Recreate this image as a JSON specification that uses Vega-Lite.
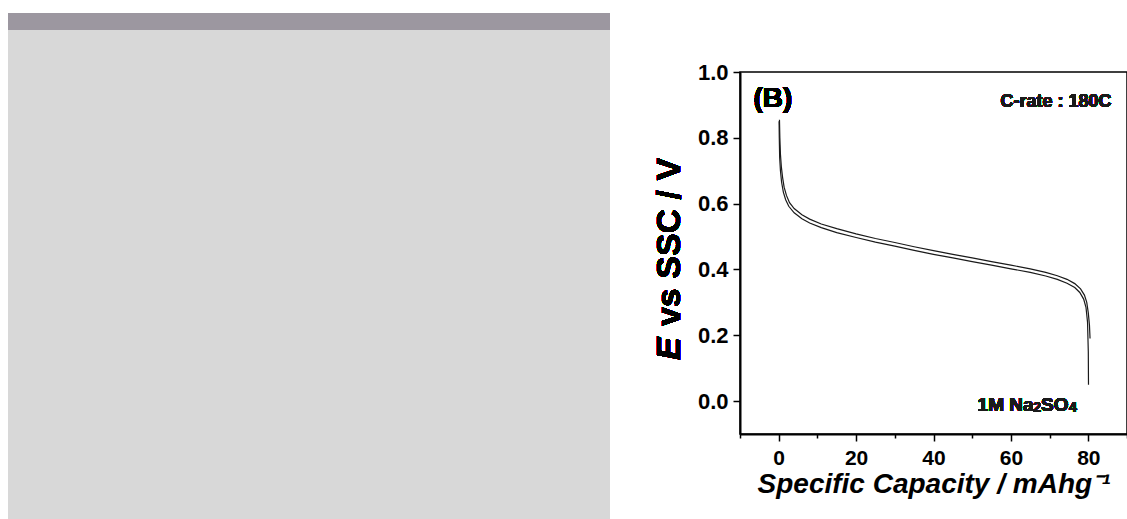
{
  "$schema": "https://vega.github.io/schema/vega-lite/v6.json",
  "background": "white",
  "padding": {"left": 8, "top": 13, "right": 0, "bottom": 0},
  "bounds": "flush",
  "spacing": 130,
  "config": {"view": {"stroke": null}, "font": "Liberation Sans"},
  "datasets": {
    "panels": [
      {"panel": "image", "x0": 0, "x1": 1, "y0": 0, "y1": 489},
      {"panel": "strip", "x0": 0, "x1": 1, "y0": 489, "y1": 506}
    ],
    "curves": [
      {"run": "A", "cap": 0.2, "E": 0.855}, {"run": "A", "cap": 0.3, "E": 0.8}, {"run": "A", "cap": 0.45, "E": 0.75}, {"run": "A", "cap": 0.7, "E": 0.71}, {"run": "A", "cap": 1.0, "E": 0.68}, {"run": "A", "cap": 1.4, "E": 0.65}, {"run": "A", "cap": 2.0, "E": 0.625}, {"run": "A", "cap": 2.8, "E": 0.603}, {"run": "A", "cap": 4, "E": 0.585}, {"run": "A", "cap": 6, "E": 0.566}, {"run": "A", "cap": 8, "E": 0.553}, {"run": "A", "cap": 11, "E": 0.538}, {"run": "A", "cap": 15, "E": 0.524}, {"run": "A", "cap": 20, "E": 0.508}, {"run": "A", "cap": 25, "E": 0.494}, {"run": "A", "cap": 30, "E": 0.482}, {"run": "A", "cap": 35, "E": 0.469}, {"run": "A", "cap": 40, "E": 0.457}, {"run": "A", "cap": 45, "E": 0.446}, {"run": "A", "cap": 50, "E": 0.435}, {"run": "A", "cap": 55, "E": 0.424}, {"run": "A", "cap": 60, "E": 0.413}, {"run": "A", "cap": 65, "E": 0.402}, {"run": "A", "cap": 69, "E": 0.391}, {"run": "A", "cap": 72, "E": 0.381}, {"run": "A", "cap": 74.5, "E": 0.37}, {"run": "A", "cap": 76.5, "E": 0.357}, {"run": "A", "cap": 78, "E": 0.341}, {"run": "A", "cap": 79, "E": 0.322}, {"run": "A", "cap": 79.6, "E": 0.3}, {"run": "A", "cap": 80.0, "E": 0.268}, {"run": "A", "cap": 80.3, "E": 0.23}, {"run": "A", "cap": 80.45, "E": 0.19},
      {"run": "B", "cap": 0.1, "E": 0.85}, {"run": "B", "cap": 0.15, "E": 0.8}, {"run": "B", "cap": 0.25, "E": 0.74}, {"run": "B", "cap": 0.45, "E": 0.7}, {"run": "B", "cap": 0.75, "E": 0.665}, {"run": "B", "cap": 1.2, "E": 0.635}, {"run": "B", "cap": 1.8, "E": 0.612}, {"run": "B", "cap": 2.6, "E": 0.592}, {"run": "B", "cap": 4, "E": 0.572}, {"run": "B", "cap": 6, "E": 0.554}, {"run": "B", "cap": 8, "E": 0.541}, {"run": "B", "cap": 11, "E": 0.527}, {"run": "B", "cap": 15, "E": 0.512}, {"run": "B", "cap": 20, "E": 0.497}, {"run": "B", "cap": 25, "E": 0.483}, {"run": "B", "cap": 30, "E": 0.471}, {"run": "B", "cap": 35, "E": 0.458}, {"run": "B", "cap": 40, "E": 0.446}, {"run": "B", "cap": 45, "E": 0.435}, {"run": "B", "cap": 50, "E": 0.424}, {"run": "B", "cap": 55, "E": 0.413}, {"run": "B", "cap": 60, "E": 0.402}, {"run": "B", "cap": 65, "E": 0.391}, {"run": "B", "cap": 69, "E": 0.38}, {"run": "B", "cap": 72, "E": 0.37}, {"run": "B", "cap": 74.5, "E": 0.358}, {"run": "B", "cap": 76.5, "E": 0.345}, {"run": "B", "cap": 77.8, "E": 0.33}, {"run": "B", "cap": 78.8, "E": 0.31}, {"run": "B", "cap": 79.4, "E": 0.285}, {"run": "B", "cap": 79.8, "E": 0.24}, {"run": "B", "cap": 80.0, "E": 0.15}, {"run": "B", "cap": 80.05, "E": 0.05}
    ]
  },
  "hconcat": [
    {
      "width": 602,
      "height": 506,
      "data": {"name": "panels"},
      "mark": {"type": "rect"},
      "encoding": {
        "x": {"field": "x0", "type": "quantitative", "scale": {"domain": [0, 1], "nice": false}, "axis": null},
        "x2": {"field": "x1"},
        "y": {"field": "y0", "type": "quantitative", "scale": {"domain": [0, 506], "nice": false, "zero": false}, "axis": null},
        "y2": {"field": "y1"},
        "color": {"field": "panel", "type": "nominal", "scale": {"domain": ["image", "strip"], "range": ["#d8d8d8", "#9c97a0"]}, "legend": null}
      }
    },
    {
      "bounds": "flush",
      "spacing": 58,
      "vconcat": [
        {
          "width": 387,
          "height": 1,
          "data": {"values": [{"k": 1}]},
          "mark": {"type": "text", "text": "", "fontSize": 1, "baseline": "top"},
          "encoding": {}
        },
        {
          "width": 387,
          "height": 362,
          "view": {"stroke": "black", "strokeWidth": 1.5},
          "data": {"name": "curves"},
          "resolve": {"axis": {"x": "independent"}},
          "layer": [
            {
              "mark": {"type": "line", "color": "#1a1a1a", "strokeWidth": 1.2},
              "encoding": {
                "x": {
                  "field": "cap", "type": "quantitative",
                  "scale": {"domain": [-10, 90], "nice": false, "zero": false},
                  "axis": {
                    "orient": "bottom",
                    "values": [0, 20, 40, 60, 80],
                    "labelOverlap": false,
                    "grid": false,
                    "tickSize": 7,
                    "tickWidth": 1.5, "tickColor": "black",
                    "domainColor": "black", "domainWidth": 2,
                    "labelFontSize": 21, "labelFontWeight": "bold", "labelColor": "black", "labelPadding": 6,
                    "labelFlush": false,
                    "title": "Specific Capacity / mAhg⁻¹",
                    "titleFontSize": 28, "titleFontStyle": "italic", "titleFontWeight": "bold", "titleColor": "black", "titlePadding": 2
                  }
                },
                "y": {
                  "field": "E", "type": "quantitative",
                  "scale": {"domain": [-0.1, 1.0], "nice": false, "zero": false},
                  "axis": {
                    "values": [0, 0.1, 0.2, 0.3, 0.4, 0.5, 0.6, 0.7, 0.8, 0.9, 1.0],
                    "labelExpr": "round(datum.value*10) % 2 == 0 ? format(datum.value, '.1f') : ''",
                    "labelOverlap": false,
                    "grid": false,
                    "tickSize": {"condition": {"test": "round(datum.value*10) % 2 == 0", "value": 7}, "value": 4},
                    "tickWidth": 1.5, "tickColor": "black",
                    "domainColor": "black", "domainWidth": 2,
                    "labelFontSize": 22, "labelFontWeight": "bold", "labelColor": "black", "labelPadding": 5,
                    "labelFlush": false,
                    "title": null
                  }
                },
                "detail": {"field": "run", "type": "nominal"}
              }
            },
            {
              "mark": {"type": "text", "text": "E", "fontSize": 34, "fontWeight": "bold", "fontStyle": "italic", "angle": 270, "align": "left", "baseline": "alphabetic", "color": "black"},
              "encoding": {"x": {"datum": -25.6, "axis": null}, "y": {"datum": 0.125}}
            },
            {
              "mark": {"type": "text", "text": "vs SSC / V", "fontSize": 34, "fontWeight": "bold", "angle": 270, "align": "left", "baseline": "alphabetic", "color": "black"},
              "encoding": {"x": {"datum": -25.6, "axis": null}, "y": {"datum": 0.228}}
            },
            {
              "mark": {"type": "text", "text": "(B)", "fontSize": 28, "fontWeight": "bold", "align": "left", "baseline": "alphabetic", "color": "black"},
              "encoding": {"x": {"datum": -6.5, "axis": null}, "y": {"datum": 0.893}}
            },
            {
              "mark": {"type": "text", "text": "C-rate : 180C", "fontSize": 18, "fontWeight": "bold", "align": "right", "baseline": "alphabetic", "color": "#1a1a1a"},
              "encoding": {"x": {"datum": 86, "axis": null}, "y": {"datum": 0.895}}
            },
            {
              "mark": {"type": "text", "text": "1M Na", "fontSize": 19, "fontWeight": "bold", "align": "left", "baseline": "alphabetic", "color": "#1a1a1a"},
              "encoding": {"x": {"datum": 51.4, "axis": null}, "y": {"datum": -0.03}}
            },
            {
              "mark": {"type": "text", "text": "2", "fontSize": 14, "fontWeight": "bold", "align": "left", "baseline": "alphabetic", "color": "#1a1a1a"},
              "encoding": {"x": {"datum": 65.8, "axis": null}, "y": {"datum": -0.032}}
            },
            {
              "mark": {"type": "text", "text": "SO", "fontSize": 19, "fontWeight": "bold", "align": "left", "baseline": "alphabetic", "color": "#1a1a1a"},
              "encoding": {"x": {"datum": 67.8, "axis": null}, "y": {"datum": -0.03}}
            },
            {
              "mark": {"type": "text", "text": "4", "fontSize": 14, "fontWeight": "bold", "align": "left", "baseline": "alphabetic", "color": "#1a1a1a"},
              "encoding": {
                "x": {"datum": 75.0, "axis": {"orient": "bottom", "values": [-10, 10, 30, 50, 70, 90], "labels": false, "domain": false, "grid": false, "tickSize": 4, "tickWidth": 1.5, "tickColor": "black", "title": null}},
                "y": {"datum": -0.032}
              }
            }
          ]
        }
      ]
    }
  ]
}
